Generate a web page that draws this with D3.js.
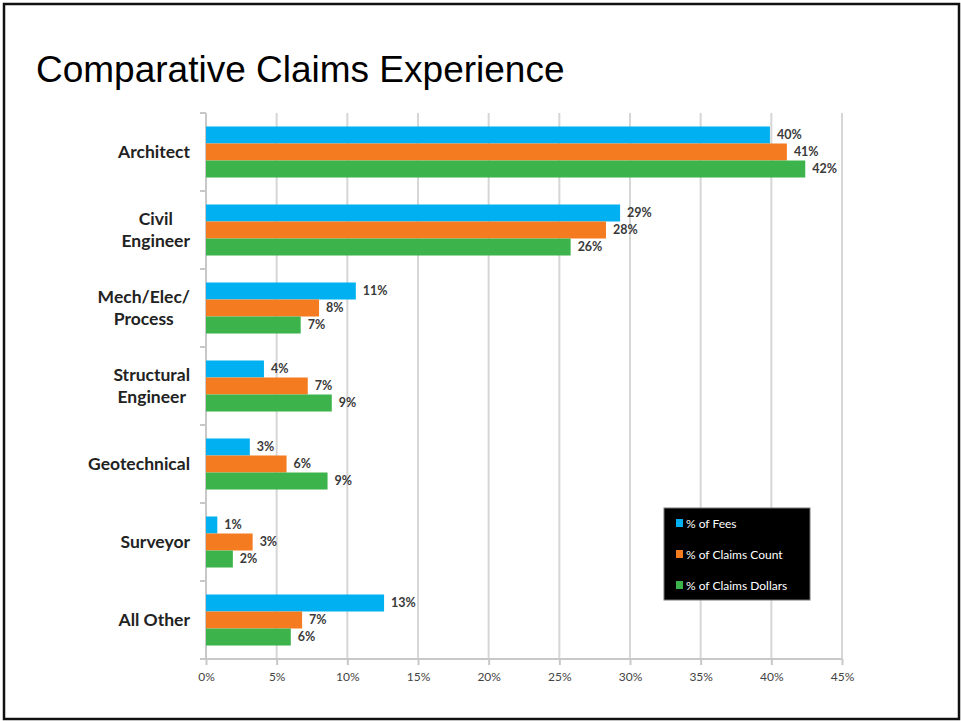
<!DOCTYPE html>
<html>
<head>
<meta charset="utf-8">
<script src="https://cdn.jsdelivr.net/npm/d3@7/dist/d3.min.js"></script>
<style>
  html, body { margin: 0; padding: 0; background: #fff; }
  svg { display: block; }
</style>
</head>
<body>
<svg id="chart" width="961" height="721"></svg>
<script>
// Professions compared in the claims study
const categories = ["Architect", "Civil Engineer", "Mech/Elec/ Process", "Structural Engineer", "Geotechnical", "Surveyor", "All Other"];
// Share of each measure per profession (fractions)
const feesShare = [0.399, 0.293, 0.106, 0.041, 0.031, 0.008, 0.126];
const claimsCountShare = [0.411, 0.283, 0.080, 0.072, 0.057, 0.033, 0.068];
const claimsDollarsShare = [0.424, 0.258, 0.067, 0.089, 0.086, 0.019, 0.060];
const seriesNames = ["% of Fees", "% of Claims Count", "% of Claims Dollars"];
const seriesColors = ["#00b0f0", "#f47b20", "#3cb44b"];
const xTicks = [0, 0.05, 0.10, 0.15, 0.20, 0.25, 0.30, 0.35, 0.40, 0.45];

const seriesValues = [feesShare, claimsCountShare, claimsDollarsShare];
const rows = categories.map((c, i) => ({ name: c, values: seriesValues.map(s => s[i]) }));

const svg = d3.select("#chart");
const labelFont = "Lato, Open Sans, sans-serif";

// outer frame
svg.append("rect")
  .attr("x", 4).attr("y", 4).attr("width", 955).attr("height", 715)
  .attr("fill", "#fff").attr("stroke", "#111").attr("stroke-width", 2.5);

svg.append("text")
  .attr("x", 36).attr("y", 82)
  .attr("font-family", "Liberation Sans, Arial, sans-serif")
  .attr("font-size", 37)
  .attr("fill", "#000")
  .text("Comparative Claims Experience");

const x = d3.scaleLinear().domain([0, 0.45]).range([206, 842]);
const y = d3.scaleBand().domain(categories).range([113, 659])
  .paddingInner(0.346).paddingOuter(0.173);
const ySub = d3.scaleBand().domain(d3.range(3)).range([0, y.bandwidth()]);

const plotTop = 113, plotBottom = 659;

// vertical gridlines
svg.append("g").selectAll("line")
  .data(xTicks.slice(1))
  .join("line")
  .attr("x1", d => x(d)).attr("x2", d => x(d))
  .attr("y1", plotTop).attr("y2", plotBottom)
  .attr("stroke", "#d6d6d6").attr("stroke-width", 2);

// bottom axis
const xAxis = d3.axisBottom(x).tickValues(xTicks).tickFormat(d3.format(".0%"))
  .tickSize(6).tickSizeOuter(0);
const gx = svg.append("g").attr("transform", `translate(0,${plotBottom})`).call(xAxis);
gx.select(".domain").attr("stroke", "#c8c8c8").attr("stroke-width", 2)
  .attr("d", `M200,0H${x(0.45)}`);
gx.selectAll(".tick line").attr("stroke", "#c8c8c8").attr("stroke-width", 2);
gx.selectAll(".tick text")
  .attr("y", 13)
  .attr("font-family", labelFont)
  .attr("font-size", 12)
  .attr("fill", "#444");

// left axis with ticks between category bands
const gy = svg.append("g");
gy.append("line")
  .attr("x1", x(0)).attr("x2", x(0)).attr("y1", plotTop).attr("y2", plotBottom)
  .attr("stroke", "#c8c8c8").attr("stroke-width", 2);
const bounds = d3.range(categories.length).map(i => plotTop + i * y.step());
gy.selectAll("line.tick")
  .data(bounds)
  .join("line")
  .attr("class", "tick")
  .attr("x1", x(0) - 6).attr("x2", x(0))
  .attr("y1", d => d).attr("y2", d => d)
  .attr("stroke", "#c8c8c8").attr("stroke-width", 2);

// category labels: each block right-aligned to the axis, lines centred within it
const catLines = {
  "Architect": ["Architect"],
  "Civil Engineer": ["Civil", "Engineer"],
  "Mech/Elec/ Process": ["Mech/Elec/", "Process"],
  "Structural Engineer": ["Structural", "Engineer"],
  "Geotechnical": ["Geotechnical"],
  "Surveyor": ["Surveyor"],
  "All Other": ["All Other"]
};
const catG = svg.append("g")
  .attr("font-family", labelFont)
  .attr("font-weight", "bold")
  .attr("font-size", 17.5)
  .attr("fill", "#222")
  .attr("text-anchor", "middle");
const labelRight = 190;
categories.forEach(c => {
  const lines = catLines[c];
  const cy = y(c) + y.bandwidth() / 2;
  const lh = 21.5;
  const texts = lines.map((l, j) => catG.append("text")
    .attr("y", cy + (j - (lines.length - 1) / 2) * lh + 6)
    .text(l));
  const w = d3.max(texts, t => t.node().getComputedTextLength());
  texts.forEach(t => t.attr("x", labelRight - w / 2));
});

// bars
const groups = svg.append("g").selectAll("g")
  .data(rows)
  .join("g")
  .attr("transform", d => `translate(0,${y(d.name)})`);

groups.selectAll("rect")
  .data(d => d.values.map((v, k) => ({ v, k })))
  .join("rect")
  .attr("x", x(0))
  .attr("y", d => ySub(d.k))
  .attr("width", d => x(d.v) - x(0))
  .attr("height", ySub.bandwidth())
  .attr("fill", d => seriesColors[d.k]);

groups.selectAll("text")
  .data(d => d.values.map((v, k) => ({ v, k })))
  .join("text")
  .attr("x", d => x(d.v) + 7)
  .attr("y", d => ySub(d.k) + ySub.bandwidth() / 2 + 4.5)
  .attr("font-family", labelFont)
  .attr("font-weight", "bold")
  .attr("font-size", 12.5)
  .attr("fill", "#3a3a3a")
  .text(d => Math.round(d.v * 100) + "%");

// legend
const lg = svg.append("g").attr("transform", "translate(664,508)");
lg.append("rect").attr("width", 146).attr("height", 92)
  .attr("fill", "#000").attr("stroke", "#777").attr("stroke-width", 1);
seriesNames.forEach((n, k) => {
  const cy = 15 + k * 31;
  lg.append("rect").attr("x", 12).attr("y", cy - 4).attr("width", 7).attr("height", 8)
    .attr("fill", seriesColors[k]);
  lg.append("text").attr("x", 22).attr("y", cy + 4.5)
    .attr("font-family", labelFont)
    .attr("font-size", 12)
    .attr("fill", "#fff")
    .text(n);
});
</script>
</body>
</html>
